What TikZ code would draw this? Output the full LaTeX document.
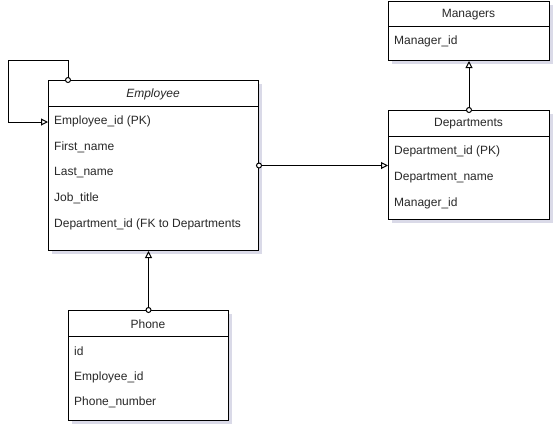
\documentclass[tikz,border=0pt]{standalone}
\usepackage{fontspec}
\setmainfont{Liberation Sans}
\usetikzlibrary{arrows.meta,shadows,calc}
\begin{document}
\begin{tikzpicture}[x=1pt,y=-1pt,
  tbl/.style={draw=black, line width=1pt, fill=white, anchor=north west, inner sep=0pt,
    drop shadow={shadow xshift=3pt, shadow yshift=-3pt, fill={rgb,255:red,150;green,150;blue,190}, opacity=0.35}},
  hdr/.style={draw=black, line width=1pt},
  title/.style={font=\fontsize{12}{14}\selectfont, text={rgb,255:red,40;green,40;blue,40}, inner sep=0pt},
  field/.style={anchor=west, font=\fontsize{12}{14}\selectfont, text={rgb,255:red,40;green,40;blue,40}, inner sep=0pt, yshift=-1.5pt},
  conn/.style={draw=black, line width=1pt, shorten <=-3pt,
    {Circle[open, fill=white, length=6pt, width=6pt]}-{Triangle[open, fill=white, length=7pt, width=7pt]}}
]
\useasboundingbox (0,0) rectangle (560,432);
\fill[white] (0,0) rectangle (560,432);

% Employee
\node[tbl, minimum width=210pt, minimum height=170pt] (emp) at (48,80) {};
\draw[hdr] (48,106) -- (258,106);
\node[title, font=\fontsize{12}{14}\selectfont\itshape, yshift=-1pt] (empt) at (153,93) {Employee};
\node[field] (e1) at (54,120) {Employee\_id (PK)};
\node[field] (e2) at (54,146) {First\_name};
\node[field] (e3) at (54,171) {Last\_name};
\node[field] (e4) at (54,197) {Job\_title};
\node[field] (e5) at (54,223) {Department\_id (FK to Departments};

% Phone
\node[tbl, minimum width=160pt, minimum height=110pt] (ph) at (68,310) {};
\draw[hdr] (68,336) -- (228,336);
\node[title, yshift=-1pt] (pht) at (148,323) {Phone};
\node[field] (p1) at (74,350) {id};
\node[field] (p2) at (74,376) {Employee\_id};
\node[field] (p3) at (74,401) {Phone\_number};

% Departments
\node[tbl, minimum width=161pt, minimum height=109pt] (dep) at (388,110) {};
\draw[hdr] (388,136) -- (549,136);
\node[title, yshift=-1pt] (dept) at (468.5,123) {Departments};
\node[field] (d1) at (394,150) {Department\_id (PK)};
\node[field] (d2) at (394,176) {Department\_name};
\node[field] (d3) at (394,202) {Manager\_id};

% Managers
\node[tbl, minimum width=161pt, minimum height=59pt] (mgr) at (388,1) {};
\draw[hdr] (388,26) -- (549,26);
\node[title, yshift=-1pt] (mgrt) at (468.5,13.5) {Managers};
\node[field] (m1) at (394,40) {Manager\_id};

% connectors
\coordinate (lp1) at ($(emp.north west)+(20,0)$);
\coordinate (lp2) at (48,122);
\draw[conn] (lp1) -- ++(0,-20) -| ++(-60,62) -- (lp2);
\draw[conn] (emp.east) -- (emp.east -| dep.west);
\draw[conn] (ph.north) -- (ph.north |- emp.south);
\draw[conn] (dep.north) -- (dep.north |- mgr.south);
\end{tikzpicture}
\end{document}
